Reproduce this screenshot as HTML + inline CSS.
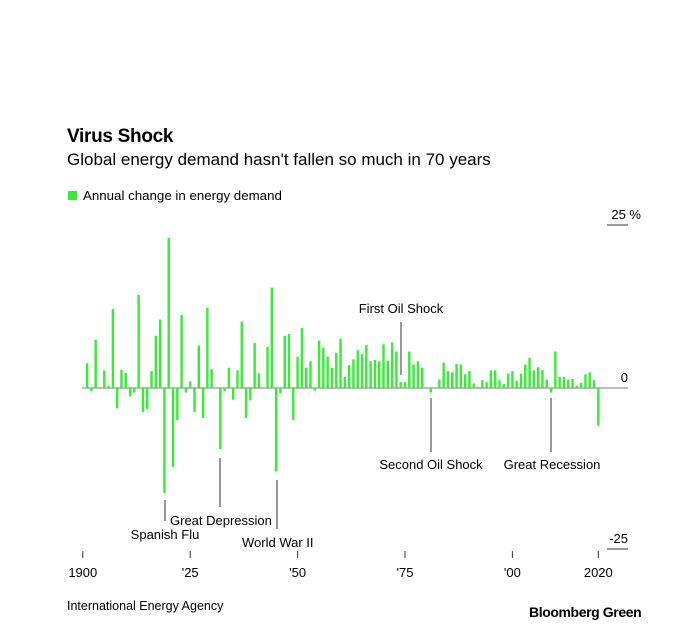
<!DOCTYPE html>
<html><head><meta charset="utf-8"><style>
body{margin:0;width:680px;height:637px;background:#fff;font-family:"Liberation Sans",Arial,sans-serif;overflow:hidden;position:relative}
.t{position:absolute;white-space:nowrap;color:#000}
</style></head><body>
<div class="t" style="left:67px;top:126px;font-size:19px;font-weight:bold;letter-spacing:-0.3px">Virus Shock</div>
<div class="t" style="left:67px;top:150px;font-size:17px">Global energy demand hasn't fallen so much in 70 years</div>
<div class="t" style="left:68px;top:188px;font-size:13.3px"><span style="display:inline-block;width:9px;height:9px;background:#33ee33;margin-right:6px"></span>Annual change in energy demand</div>
<div class="t" style="left:67px;top:599px;font-size:12.5px">International Energy Agency</div>
<div class="t" style="left:529px;top:604px;font-size:14px;font-weight:bold;letter-spacing:-0.4px">Bloomberg Green</div>
<svg id="c" width="680" height="637" style="position:absolute;left:0;top:0" font-family="Liberation Sans, Arial, sans-serif"></svg>
<script>
const years=[];for(let y=1901;y<=2020;y++)years.push(y);
const values=[3.8,-0.5,7.4,0,2.7,0.3,12.1,-3.1,2.8,2.3,-1.3,-0.7,14.3,-3.7,-3.2,2.6,8.0,10.5,-16.1,23.0,
-12.1,-4.9,11.2,-0.7,1.0,-3.7,6.5,-4.6,12.3,2.9,0.1,-9.4,-0.5,3.1,-1.8,2.7,10.2,-4.6,-1.9,6.9,
2.2,0,6.3,15.4,-12.8,-0.8,8.0,8.3,-4.9,4.8,9.2,3.1,4.1,-0.4,7.3,6.2,4.8,3.1,5.4,7.6,
1.7,3.5,4.4,5.8,5.2,6.6,4.1,4.3,4.1,6.7,4.2,7.0,5.6,0.9,0.9,5.6,3.6,4.1,3.1,0,
-0.7,0,1.3,3.9,2.6,2.4,3.7,3.6,2.1,2.6,0.7,0.2,1.2,0.9,2.7,2.7,1.2,0.6,2.2,2.6,
1.1,2.2,3.6,4.6,2.7,3.2,2.8,1.3,-0.7,5.6,1.7,1.7,1.3,1.4,0.3,0.8,2.1,2.4,1.2,-5.8];
const tickYears=[1900,1925,1950,1975,2000,2020];
const tickLabels=["1900","'25","'50","'75","'00","2020"];
const svg=document.getElementById('c');const NS='http://www.w3.org/2000/svg';
const X=y=>82.8+(y-1900)*4.296;
const Y=v=>388-v*6.52;
function el(t,a){const e=document.createElementNS(NS,t);for(const k in a)e.setAttribute(k,a[k]);svg.appendChild(e);return e;}
const zl=el('line',{x1:82,x2:628,y1:388,y2:388,stroke:'#777','stroke-width':1});


years.forEach((yr,i)=>{const v=values[i];const top=Math.min(Y(v),388),h=Math.abs(Y(v)-388);
const b=el('rect',{x:X(yr)-1.2,y:top,width:2.4,height:Math.max(h,0.01),fill:'#33ee33'});

});
tickYears.forEach((yr,i)=>{const l=el('line',{x1:X(yr),x2:X(yr),y1:551,y2:558,stroke:'#333'});


const t=el('text',{x:X(yr),y:577,'text-anchor':'middle','font-size':13,fill:'#000'});t.textContent=tickLabels[i];

});
function txt(x,y,s,name,anchor){const t=el('text',{x:x,y:y,'font-size':13,fill:'#000','text-anchor':anchor||'start'});t.textContent=s;

}
function ln(x1,y1,x2,y2,name){const l=el('line',{x1,y1,x2,y2,stroke:'#333','stroke-width':1});

}
txt(641,219,'25 %','y-label-top','end');ln(607,225,628,225,'y-gridmark-top');
txt(628,382,'0','y-label-zero','end');
txt(628,543,'-25','y-label-bottom','end');ln(607,549,628,549,'y-gridmark-bottom');
txt(401,313,'First Oil Shock','annotation-first-oil-shock','middle');ln(401,322,401,375,'annotation-line-first-oil');
txt(431,469,'Second Oil Shock','annotation-second-oil-shock','middle');ln(431,398,431,452,'annotation-line-second-oil');
txt(552,469,'Great Recession','annotation-great-recession','middle');ln(551,398,551,452,'annotation-line-recession');
txt(165,539,'Spanish Flu','annotation-spanish-flu','middle');ln(165,500,165,521,'annotation-line-flu');
txt(170,525,'Great Depression','annotation-great-depression','start');ln(220,458,220,507,'annotation-line-depression');
txt(242,547,'World War II','annotation-ww2','start');ln(277,480,277,529,'annotation-line-ww2');
</script>
</body></html>
